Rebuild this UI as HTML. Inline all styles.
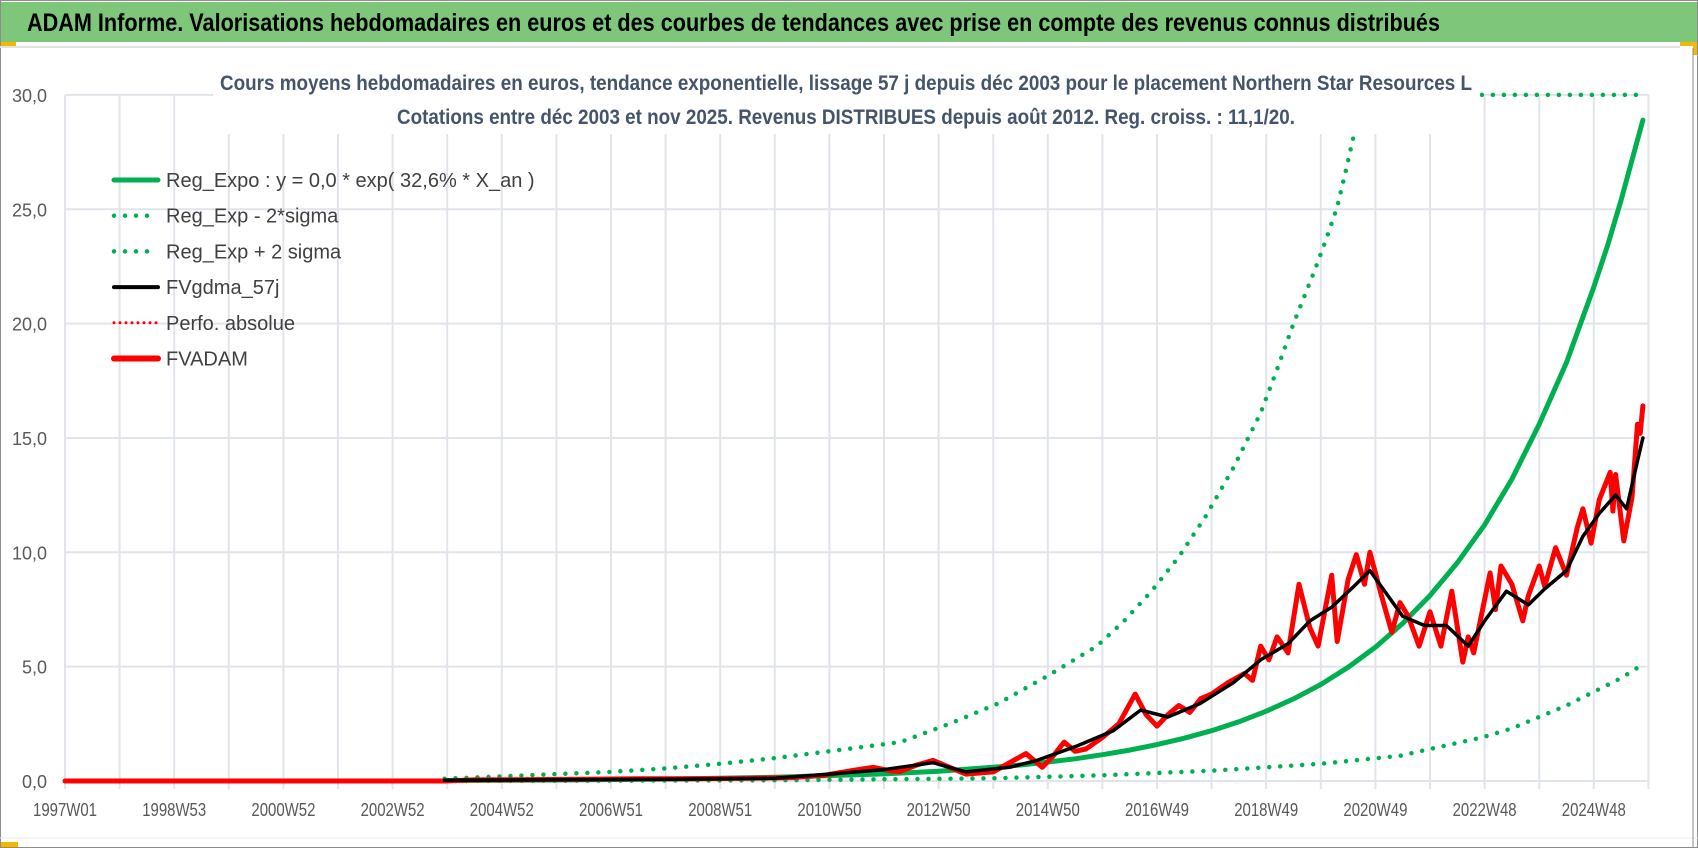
<!DOCTYPE html>
<html><head><meta charset="utf-8"><style>
html,body{margin:0;padding:0;background:#fff}
svg{display:block;font-family:"Liberation Sans",sans-serif}
</style></head><body>
<svg width="1698" height="848" viewBox="0 0 1698 848">
<rect x="0.5" y="0.5" width="1697" height="847" fill="#fff" stroke="#8c8c8c"/>
<rect x="1" y="2" width="1696" height="40" fill="#7dc67a"/>
<text x="27" y="31" font-size="25" font-weight="bold" fill="#000" textLength="1413" lengthAdjust="spacingAndGlyphs">ADAM Informe. Valorisations hebdomadaires en euros et des courbes de tendances avec prise en compte des revenus connus distribués</text>
<line x1="0" y1="47" x2="1680" y2="47" stroke="#e2e2e2" stroke-width="2"/>
<rect x="1" y="42" width="15" height="4" fill="#f5b800"/>
<rect x="1680" y="42" width="17" height="4" fill="#f5b800"/><rect x="1693" y="42" width="4" height="13" fill="#f5b800"/>
<rect x="1" y="842" width="17" height="5" fill="#f5b800"/>
<line x1="0" y1="838" x2="1698" y2="838" stroke="#e8e8e8" stroke-width="1"/>
<line x1="1693" y1="48" x2="1693" y2="848" stroke="#8c8c8c" stroke-width="1"/>
<g id="grid"></g>
<g id="yaxis"></g>
<g id="xaxis"></g>
<defs><clipPath id="pc"><rect x="60" y="92" width="1600" height="700"/></clipPath></defs>
<g id="series" clip-path="url(#pc)"></g>
<rect x="213" y="58" width="1267" height="76" fill="#fff"/>
<text x="220" y="90" font-size="21" font-weight="bold" fill="#44546a" textLength="1252" lengthAdjust="spacingAndGlyphs">Cours moyens hebdomadaires en euros, tendance exponentielle, lissage 57 j depuis déc 2003 pour le placement Northern Star Resources L</text>
<text x="397" y="124" font-size="21" font-weight="bold" fill="#44546a" textLength="898" lengthAdjust="spacingAndGlyphs">Cotations entre déc 2003 et nov 2025. Revenus DISTRIBUES depuis août 2012. Reg. croiss. : 11,1/20.</text>
<g id="legend"></g>
</svg>
<script>
const NS="http://www.w3.org/2000/svg";
const xLabels=["1997W01","1998W53","2000W52","2002W52","2004W52","2006W51","2008W51","2010W50","2012W50","2014W50","2016W49","2018W49","2020W49","2022W48","2024W48"];
const yTicks=[0,5,10,15,20,25,30];
const yTickLabels=["0,0","5,0","10,0","15,0","20,0","25,0","30,0"];
const regYears=[2003.95,2006,2008,2010,2012,2013,2014,2014.5,2015,2015.5,2016,2016.5,2017,2017.5,2018,2018.5,2019,2019.5,2020,2020.5,2021,2021.5,2022,2022.5,2023,2023.5,2024,2024.5,2025,2025.25,2025.5,2025.9];
const regVals=[0.023,0.044,0.084,0.16,0.31,0.43,0.60,0.70,0.83,0.97,1.15,1.35,1.59,1.87,2.20,2.59,3.05,3.59,4.22,4.97,5.85,6.89,8.11,9.54,11.2,13.2,15.6,18.3,21.6,23.4,25.4,28.9];
const upYears=[2003.95,2005,2006,2007,2008,2009,2010,2011,2012.3,2013.2,2014.1,2015.0,2015.9,2016.4,2016.9,2017.4,2017.9,2018.4,2018.9,2019.2,2019.5,2019.7,2019.9,2020.1,2020.3,2020.45,2020.6,2020.8];
const upVals=[0.1,0.2,0.3,0.4,0.55,0.75,1.0,1.3,1.7,2.5,3.4,4.6,5.9,7.0,8.3,9.8,11.6,13.7,16.1,18.0,20.0,21.2,22.4,23.7,25.1,26.6,28.2,30.6];
const capYears=[2022.95,2025.9];
const capVals=[30,30];
const loYears=[2003.95,2010,2014,2016,2017,2018,2019,2020,2021.45,2022,2022.95,2023.5,2024,2024.5,2025,2025.5,2025.9];
const loVals=[0,0.03,0.12,0.25,0.35,0.45,0.6,0.75,1.1,1.4,1.9,2.3,2.8,3.3,3.9,4.5,5.1];
const blkYears=[2003.95,2008,2010,2011,2012,2012.9,2013.5,2014.3,2014.8,2015.5,2016.2,2016.7,2017.2,2017.8,2018.4,2018.9,2019.4,2019.8,2020.2,2020.6,2020.9,2021.2,2021.5,2021.9,2022.3,2022.7,2023.0,2023.4,2023.8,2024.1,2024.5,2024.8,2025.1,2025.4,2025.6,2025.8,2025.9];
const blkVals=[0.03,0.08,0.12,0.3,0.5,0.8,0.4,0.6,0.9,1.5,2.2,3.1,2.8,3.4,4.3,5.3,6.0,7.0,7.6,8.5,9.2,8.2,7.2,6.8,6.8,5.9,7.0,8.3,7.7,8.4,9.2,10.7,11.7,12.5,11.9,14.0,15.0];
const redYears=[1997,2003.95,2004.5,2005.5,2006.5,2007.5,2008.5,2009.5,2010.3,2010.9,2011.4,2011.8,2012.1,2012.29,2012.6,2012.9,2013.2,2013.5,2014.0,2014.3,2014.6,2014.9,2015.1,2015.3,2015.5,2015.7,2016.0,2016.3,2016.6,2016.8,2017.0,2017.2,2017.4,2017.6,2017.8,2018.0,2018.3,2018.6,2018.75,2018.9,2019.05,2019.2,2019.4,2019.6,2019.8,2019.95,2020.2,2020.3,2020.5,2020.65,2020.8,2020.9,2021.1,2021.3,2021.45,2021.6,2021.8,2022.0,2022.2,2022.4,2022.6,2022.7,2022.8,2023.1,2023.2,2023.3,2023.5,2023.7,2023.8,2024.0,2024.1,2024.3,2024.5,2024.7,2024.8,2024.95,2025.1,2025.3,2025.35,2025.4,2025.55,2025.7,2025.8,2025.85,2025.9];
const redVals=[0,0,0.05,0.06,0.08,0.1,0.1,0.12,0.15,0.25,0.45,0.6,0.45,0.41,0.7,0.9,0.6,0.3,0.4,0.8,1.2,0.6,1.1,1.7,1.3,1.4,1.9,2.5,3.8,2.9,2.4,2.9,3.3,3.0,3.6,3.8,4.3,4.7,4.4,5.9,5.3,6.3,5.6,8.6,6.7,5.9,9.0,6.1,8.8,9.9,8.6,10.0,8.2,6.5,7.8,7.2,5.9,7.4,5.9,8.3,5.2,6.3,5.6,9.1,7.5,9.4,8.6,7.0,8.1,9.4,8.5,10.2,9.0,11.1,11.9,10.4,12.3,13.5,11.8,13.4,10.5,12.4,15.6,15.2,16.4];

const X0=65,PXY=54.6,Y0=781,PXV=22.87;
function xs(t){return X0+(t-1997)*PXY;}
function ys(v){return Y0-v*PXV;}
function el(tag,attrs,parent){const e=document.createElementNS(NS,tag);for(const k in attrs)e.setAttribute(k,attrs[k]);parent.appendChild(e);return e;}

const grid=document.getElementById('grid');
for(let i=0;i<=29;i++){
  const l=el('line',{x1:xs(1997+i),x2:xs(1997+i),y1:ys(30),y2:Y0+8,stroke:'#e1e4ea','stroke-width':2},grid);
  
  
}
const yax=document.getElementById('yaxis');
yTicks.forEach((v,i)=>{
  const l=el('line',{x1:X0,x2:xs(2026),y1:ys(v),y2:ys(v),stroke:'#e1e4ea','stroke-width':2},grid);
  
  
  const t=el('text',{x:47,y:ys(v)+7,'font-size':18,fill:'#595959','text-anchor':'end'},yax);
  t.textContent=yTickLabels[i];
  
  
});
const xax=document.getElementById('xaxis');
xLabels.forEach((s,i)=>{
  const t=el('text',{x:xs(1997+i*2)-32,y:816,'font-size':18,fill:'#595959',textLength:64,lengthAdjust:'spacingAndGlyphs'},xax);
  t.textContent=s;
  
  
});
const ser=document.getElementById('series');
function poly(yrs,vals,style,name){
  const p=el('polyline',Object.assign({points:yrs.map((t,i)=>xs(t).toFixed(1)+','+ys(vals[i]).toFixed(1)).join(' '),fill:'none','stroke-linejoin':'round','stroke-linecap':'round'},style),ser);
  
  
}
const dot={stroke:'#00b050','stroke-width':4.5,'stroke-dasharray':'0 11'};
poly(upYears,upVals,dot,'reg-exp-plus-2-sigma');
poly(capYears,capVals,dot,'reg-exp-plus-2-sigma-cap');
poly(loYears,loVals,dot,'reg-exp-minus-2-sigma');
poly(regYears,regVals,{stroke:'#00b050','stroke-width':5},'reg-expo-line');
poly(redYears,redVals,{stroke:'#ff0000','stroke-width':5},'fvadam-line');
poly(blkYears,blkVals,{stroke:'#000','stroke-width':3.5},'fvgdma-57j-line');

const legNames=["Reg_Expo : y = 0,0 * exp( 32,6% *  X_an )","Reg_Exp - 2*sigma","Reg_Exp + 2 sigma","FVgdma_57j","Perfo. absolue","FVADAM"];
const leg=document.getElementById('legend');
const legStyles=[{stroke:'#00b050','stroke-width':5},dot,dot,{stroke:'#000','stroke-width':4},{stroke:'#ff0000','stroke-width':3,'stroke-dasharray':'0 6'},{stroke:'#ff0000','stroke-width':6}];
legNames.forEach((n,i)=>{
  const y=180+i*35.7;
  const l=el('line',Object.assign({x1:114,x2:158,y1:y,y2:y,'stroke-linecap':'round'},legStyles[i]),leg);
  
  
  const t=el('text',{x:166,y:y+7,'font-size':20,fill:'#404040'},leg);
  t.textContent=n;
  
  
});
</script>
</body></html>
